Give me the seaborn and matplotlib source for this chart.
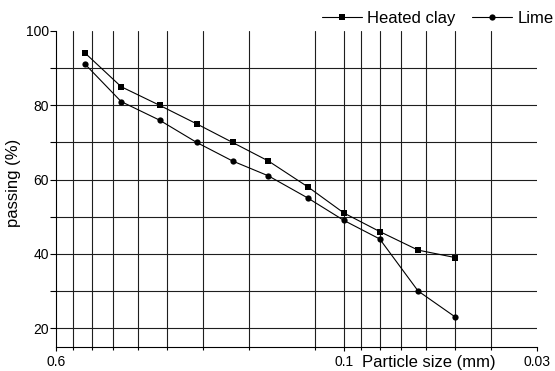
import matplotlib
matplotlib.use("Agg")
import matplotlib.pyplot as plt
import seaborn as sns
from matplotlib.ticker import NullFormatter

# sieve sizes (mm) and passing (%)
sizes = [0.5, 0.4, 0.315, 0.25, 0.2, 0.16, 0.125, 0.1, 0.08, 0.063, 0.05]
heated_clay = [94, 85, 80, 75, 70, 65, 58, 51, 46, 41, 39]
lime = [91, 81, 76, 70, 65, 61, 55, 49, 44, 30, 23]

x_major = [0.6, 0.1, 0.03]
x_major_labels = ["0.6", "0.1", "0.03"]
x_minor = [0.54, 0.48, 0.42, 0.36, 0.30, 0.24, 0.18, 0.12, 0.1,
           0.09, 0.08, 0.07, 0.06, 0.05, 0.04]
y_major = [20, 40, 60, 80, 100]
y_minor = [30, 50, 70, 90]
y_grid = [20, 30, 40, 50, 60, 70, 80, 90]

sns.set_theme(style="white")
plt.rcParams["font.family"] = ["Liberation Sans", "DejaVu Sans"]
plt.rcParams["text.color"] = "black"
plt.rcParams["axes.labelcolor"] = "black"

fig = plt.figure(figsize=(5.55, 3.71), dpi=100)
ax = fig.add_axes([0.1009, 0.0655, 0.8672, 0.851])
ax.set_xscale("log")

# grid lines (vertical at sieve ticks, horizontal every 10 %)
for v in x_minor:
    ax.axvline(v, color="#1e1e1e", lw=0.8, zorder=1)
for v in y_grid:
    ax.axhline(v, color="#1e1e1e", lw=0.8, zorder=1)

sns.lineplot(x=sizes, y=heated_clay, marker="s", markersize=4, markeredgewidth=0,
             color="black", lw=0.8, label="Heated clay", ax=ax, zorder=3)
sns.lineplot(x=sizes, y=lime, marker="o", markersize=4.5, markeredgewidth=0,
             color="black", lw=0.8, label="Lime", ax=ax, zorder=3)

ax.set_xlim(0.6, 0.03)
ax.set_ylim(15, 100)

ax.set_xticks(x_major, labels=x_major_labels)
ax.set_xticks(x_minor, minor=True)
ax.xaxis.set_minor_formatter(NullFormatter())
ax.set_yticks(y_major)
ax.set_yticks(y_minor, minor=True)

ax.tick_params(axis="both", which="both", direction="out", color="black",
               labelcolor="black", labelsize=10, width=0.8)
ax.tick_params(axis="x", which="major", bottom=True, length=3, pad=3)
ax.tick_params(axis="x", which="minor", bottom=True, length=2.5)
ax.tick_params(axis="y", which="both", left=True, length=4, pad=1)

for s in ["top", "right"]:
    ax.spines[s].set_visible(False)
for s in ["left", "bottom"]:
    ax.spines[s].set_color("black")
    ax.spines[s].set_linewidth(0.8)

ax.set_xlabel("Particle size (mm)", fontsize=12)
ax.xaxis.set_label_coords(0.775, -0.027)
ax.set_ylabel("passing (%)", fontsize=12)
ax.yaxis.set_label_coords(-0.073, 0.52)

ax.legend(loc="center right", bbox_to_anchor=(0.997, 0.951),
          bbox_transform=fig.transFigure, ncol=2, frameon=False, fontsize=12,
          handlelength=2.4, handletextpad=0.3, columnspacing=1.0,
          borderpad=0, borderaxespad=0)

plt.savefig("out.png", dpi=100)
